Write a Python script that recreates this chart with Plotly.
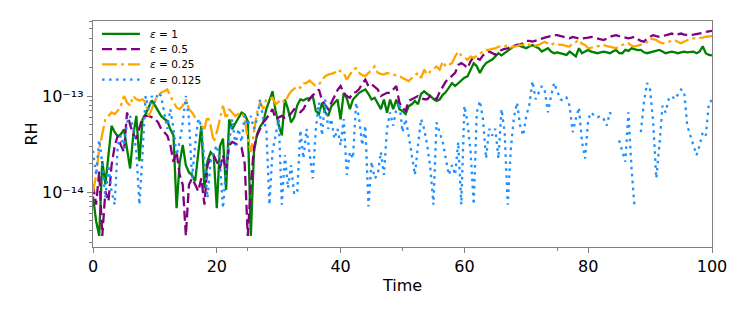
import plotly.graph_objects as go

# ---------------- data (RH values in units of 1e-14) ----------------
RH_UNIT = 1e-14
TIME_STEP = 0.5
time = [k * TIME_STEP for k in range(201)]   # 0 .. 100

eps_1 = [
    0.9, 0.5, 0.35, 2.1, 1.2, 2.5, 4.9, 4.2, 3.8, 4.0,
    4.5, 2.8, 1.76, 3.9, 6.2, 2.1, 5.7, 6.5, 7.5, 9.0,
    8.0, 7.0, 6.2, 5.8, 5.5, 4.5, 3.9, 0.68, 2.0, 3.1,
    1.9, 1.6, 1.5, 1.3, 2.5, 4.9, 1.1, 2.1, 2.6, 2.4,
    0.68, 3.0, 3.6, 1.05, 5.7, 4.5, 5.2, 6.0, 6.7, 6.4,
    5.5, 0.35, 2.6, 4.0, 4.8, 5.3, 7.3, 9.0, 11.2, 7.0,
    5.0, 3.9, 9.2, 7.3, 5.3, 6.0, 8.0, 9.2, 9.0, 9.4,
    9.5, 10, 7.0, 6.5, 8.5, 6.8, 6.2, 7.8, 8.5, 9.2,
    5.7, 10.8, 9.5, 7.3, 9.2, 10, 10.8, 11.3, 11.7, 10.5,
    9.2, 9.6, 8.5, 7.3, 9.2, 6.7, 9.2, 7.3, 9.2, 7.3,
    7.0, 6.5, 7.8, 8.2, 8.9, 8.2, 10.5, 11.2, 10.5, 10,
    9.3, 8.9, 9.2, 10.3, 11, 12.2, 13.6, 12.7, 13.6, 14.8,
    15.5, 16, 18.8, 22, 20.4, 17.4, 20, 22, 23, 24,
    25.8, 27.9, 26.5, 28, 29, 31, 33, 34, 33, 32.5,
    31.5, 32.7, 34, 32.5, 31.4, 29, 30, 31.4, 29, 27.9,
    28.5, 27.9, 27.5, 26.8, 29, 27.5, 25.8, 31.4, 27.9, 29,
    30.2, 29, 28.5, 27.9, 28.5, 29, 28.5, 27.9, 29, 30.2,
    28, 27.9, 30.2, 29.5, 31.4, 30.5, 30, 30.2, 28.5, 27.9,
    28.5, 29, 29.5, 30.2, 29, 27.9, 28.5, 29, 28.5, 27.9,
    28.5, 29, 28.5, 29, 29, 27.9, 29, 33, 27.9, 26.8,
    26.5,
]

eps_05 = [
    1.2, 0.74, 1.63, 0.35, 1.02, 0.8, 1.91, 3.0, 3.88, 3.06,
    2.62, 6.75, 5.0, 4.0, 3.59, 4.55, 6.0, 6.2, 6.2, 6.0,
    5.76, 5.33, 4.55, 4.2, 3.88, 3.06, 2.07, 2.62, 1.51, 1.19,
    0.35, 1.19, 1.39, 1.2, 1.02, 1.39, 0.74, 1.91, 2.24, 2.42,
    2.1, 1.76, 2.42, 1.63, 3.06, 3.32, 3.2, 3.06, 2.9, 2.0,
    0.35, 1.2, 2.9, 3.88, 4.55, 5.33, 5.8, 6.5, 7.3, 5.76,
    6.0, 6.2, 5.9, 6.0, 6.6, 7.3, 7.0, 6.8, 7.3, 8.5,
    9.25, 10.2, 10.8, 11.7, 9.0, 8.0, 7.3, 8.5, 9.8, 11.5,
    12.7, 10.8, 10, 9.6, 10.8, 11, 11.8, 13.5, 14.8, 12.7,
    13.3, 12.5, 11.7, 10, 10.5, 10.8, 10.8, 11.8, 12.7, 8.55,
    7.5, 7.0, 8.9, 9.25, 9.6, 10, 9.5, 9.25, 9.25, 10,
    9.6, 9.25, 11, 12.5, 14.2, 15.2, 16.1, 17.4, 21, 22,
    21, 19.5, 23, 25.8, 24.8, 23.8, 26.5, 28, 29, 28,
    26.8, 28.5, 30.2, 31, 31.4, 32.5, 33.5, 34, 34.5, 35.3,
    37.5, 37.5, 36.8, 37.5, 38.2, 39.5, 40.5, 41.3, 42.5, 43,
    43, 42, 41.3, 40.5, 39.8, 41.3, 40.5, 39.8, 39.8, 39.8,
    40.5, 41.3, 40.5, 39.8, 39, 38.2, 39.5, 41.3, 42.2, 43,
    42, 41.3, 40.5, 39.8, 40.5, 41.3, 39, 37.5, 36.8, 39.5,
    41.3, 43, 42, 41.3, 42, 43, 44, 44.7, 43, 44,
    44.7, 43.5, 43, 43, 43.5, 44, 44.7, 45.5, 46.5, 47.2,
    47.6,
]

eps_025 = [
    1.0, 1.5, 2.8, 3.9, 5.76, 6.2, 6.75, 6.5, 7.0, 7.9,
    10, 8.55, 7.9, 10, 9.25, 9.0, 9.25, 8.55, 6.2, 7.3,
    8.9, 10, 10.8, 11.2, 11.7, 10, 8.55, 7.6, 7.3, 7.9,
    9.25, 7.3, 6.75, 6.0, 5.76, 4.92, 4.55, 6.2, 4.92, 3.32,
    4.2, 5.76, 7.9, 5.76, 7.3, 6.7, 6.2, 6.5, 6.75, 5.76,
    3.59, 2.62, 4.2, 6.75, 8.55, 7.3, 9.25, 9.4, 9.6, 8.2,
    8.7, 9.25, 8.55, 10, 11.2, 12, 12.7, 12.2, 13.5, 13.7,
    14.5, 13.5, 12.7, 13.2, 14.5, 16.1, 16.7, 17, 17.4, 18.8,
    18, 17.4, 14.8, 16.7, 18.8, 19.5, 17.4, 16.5, 16.1, 17.4,
    18.5, 20.3, 17.4, 17, 16.7, 17.4, 17, 16.7, 16.4, 16.1,
    15.4, 14.8, 14.3, 15.4, 16.5, 17.4, 15.4, 18.8, 16.7, 18.1,
    19, 20.3, 18.8, 22.9, 20.3, 21, 22, 25.8, 29, 26.5,
    25, 23.8, 25.8, 24.8, 26.5, 27.9, 29, 30.2, 30.2, 31,
    31.4, 32.7, 32.7, 32.7, 34, 32, 32.7, 33, 34, 34,
    35.4, 34, 32.7, 33.5, 34, 35.5, 36.7, 35, 34, 35.4,
    34.5, 34, 34, 33, 32.7, 35.4, 36.5, 38.3, 35, 34,
    31.4, 32, 32.7, 33, 33.5, 34, 33, 32.7, 32, 31.4,
    33, 34, 35, 35.4, 33.5, 32.7, 33.5, 34, 35, 36.5,
    39.8, 39, 38.3, 36.5, 35.4, 36, 36.7, 37.5, 38.3, 36.5,
    35.4, 37, 38.3, 39, 39.8, 39.8, 39.8, 40.5, 41.4, 41.8,
    42,
]

eps_0125 = [
    2.7, 1.5, 3.5, 2.0, 0.87, 1.91, 1.02, 0.74, 3.06, 3.88,
    2.83, 5.33, 6.2, 4.55, 2.62, 0.74, 2.5, 10, 7.3, 10,
    8.55, 10.8, 10, 6.75, 4.55, 7.3, 4.55, 2.42, 3.32, 5.33,
    10, 5.76, 1.39, 3.06, 5.76, 4.92, 2.07, 0.87, 2.07, 2.62,
    3.06, 2.07, 0.68, 1.76, 3.32, 5.76, 3.06, 4.55, 3.32, 6.2,
    4.92, 6.2, 4.55, 5.76, 9.25, 5.76, 4.55, 0.74, 2.62, 3.88,
    5.76, 0.74, 2.42, 1.1, 1.91, 0.95, 1.02, 4.4, 2.24, 4.55,
    2.62, 1.39, 4.55, 8.55, 3.88, 9.25, 4.55, 5.76, 3.59, 4.55,
    3.06, 5.76, 1.51, 2.62, 2.24, 8.55, 5.76, 3.06, 4.92, 0.71,
    2.07, 1.39, 1.51, 2.62, 1.51, 4.55, 6.75, 4.92, 7.3, 8.55,
    4.2, 5.76, 3.88, 2.42, 1.51, 3.06, 5.76, 4.55, 3.06, 1.76,
    0.74, 5.33, 4.2, 3.32, 2.24, 1.51, 1.91, 1.51, 3.32, 0.74,
    7.9, 5.33, 2.62, 0.74, 6.75, 8.9, 5.76, 2.24, 4.55, 3.88,
    4.55, 2.24, 7.3, 4.2, 0.74, 2.8, 6.0, 8.55, 4.92, 3.88,
    6.2, 8.2, 14.3, 9.25, 10.8, 12.7, 11.2, 6.75, 10, 13.7,
    11.2, 9.25, 8.9, 9.6, 7.9, 4.2, 5.76, 7.6, 3.32, 2.24,
    5.76, 6.75, 6.2, 6.0, 6.2, 5.76, 4.92, 6.75, 6.0, None,
    3.45, 2.62, 2.07, 6.75, 1.76, 0.68, None, 4.2, 8.55, 13.7,
    11.7, 5.33, 1.39, 3.06, 7.9, 6.75, 9.25, 10, 9.25, 10.4,
    11.7, 11.2, 4.92, 3.88, 3.06, 2.42, 3.06, 4.2, 3.88, 8.55,
    9.0,
]

series_names = ["<i>ε</i> = 1", "<i>ε</i> = 0.5", "<i>ε</i> = 0.25", "<i>ε</i> = 0.125"]
series_values = [eps_1, eps_05, eps_025, eps_0125]
series_colors = ["#008000", "#800080", "#FFA500", "#1E90FF"]
series_dashes = ["solid", "10px,4.5px", "15px,4px,3px,4px", "2.6px,4.4px"]

x_ticks = [0, 20, 40, 60, 80, 100]
x_minor = [25, 50, 75]
y_ticks = [1e-14, 1e-13]
y_ticktext = ["10⁻¹⁴", "10⁻¹³"]
y_minor = [m * 1e-15 for m in range(3, 10)] + [m * 1e-14 for m in range(2, 10)] + [m * 1e-13 for m in range(2, 7)]

# ---------------- geometry (page has an 8px body margin) ----------------
W, H = 731, 296
ML, MR, MT, MB = 85, 26, 13, 54
PW, PH = W - ML - MR, H - MT - MB
LINE_W = 2.3


def px_to_paper(x, y):
    return (x - ML) / PW, 1 - (y - MT) / PH


# ---------------- figure ----------------
fig = go.Figure()
for name, vals, col, dash in zip(series_names, series_values, series_colors, series_dashes):
    fig.add_trace(go.Scatter(
        x=time,
        y=[None if v is None else v * RH_UNIT for v in vals],
        mode="lines", name=name,
        line=dict(color=col, width=LINE_W, dash=dash),
        connectgaps=False, showlegend=False,
    ))

# legend (drawn compactly, matplotlib-like)
leg_x0, leg_x1, leg_tx = 94, 132, 140
leg_rows = [26, 41.5, 57, 72.5]
for name, col, dash, ry in zip(series_names, series_colors, series_dashes, leg_rows):
    ax0, ay = px_to_paper(leg_x0, ry)
    ax1, _ = px_to_paper(leg_x1, ry)
    atx, _ = px_to_paper(leg_tx, ry)
    fig.add_shape(type="line", xref="paper", yref="paper", x0=ax0, x1=ax1, y0=ay, y1=ay,
                  line=dict(color=col, width=LINE_W, dash=dash))
    fig.add_annotation(xref="paper", yref="paper", x=atx, y=ay, text=name, showarrow=False,
                       xanchor="left", yanchor="middle", font=dict(size=10.5, color="black"))

AX = "#808080"
fig.update_layout(
    width=W, height=H,
    margin=dict(l=ML, r=MR, t=MT, b=MB),
    plot_bgcolor="white", paper_bgcolor="white",
    font=dict(family="DejaVu Sans", size=16, color="black"),
    showlegend=False,
)
fig.update_xaxes(
    range=[0, 100], showline=True, linecolor=AX, linewidth=1.3, mirror=True,
    showgrid=False, zeroline=False,
    tickmode="array", tickvals=x_ticks, ticks="outside", ticklen=5, tickcolor=AX, tickwidth=1.2,
    minor=dict(tickmode="array", tickvals=x_minor, ticks="outside", ticklen=3, tickcolor=AX, showgrid=False),
    tickfont=dict(size=16),
    title=dict(text="Time", font=dict(size=16), standoff=4),
)
fig.update_yaxes(
    type="log", range=[-14.572, -12.219],
    showline=True, linecolor=AX, linewidth=1.3, mirror=True,
    showgrid=False, zeroline=False,
    tickmode="array", tickvals=y_ticks, ticktext=y_ticktext,
    ticks="outside", ticklen=5, tickcolor=AX, tickwidth=1.2,
    minor=dict(tickmode="array", tickvals=y_minor, ticks="outside", ticklen=3, tickcolor=AX, showgrid=False),
    tickfont=dict(size=16),
    title=dict(text="RH", font=dict(size=16), standoff=0),
)

fig.write_html("out.html")
